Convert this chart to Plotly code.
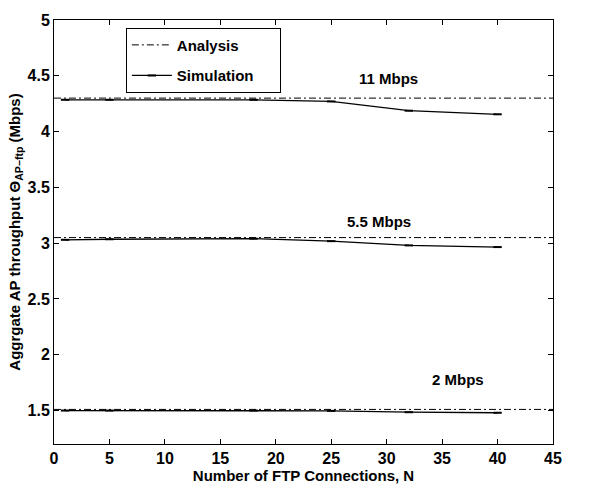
import plotly.graph_objects as go

# Data
n_conn = [1, 5, 18, 25, 32, 40]
sim_11 = [4.285, 4.285, 4.285, 4.27, 4.187, 4.155]
sim_55 = [3.03, 3.035, 3.04, 3.018, 2.98, 2.965]
sim_2 = [1.50, 1.50, 1.50, 1.497, 1.485, 1.48]
analysis_x = [0, 45]
ana_11 = 4.30
ana_55 = 3.05
ana_2 = 1.51
rate_labels = ["11 Mbps", "5.5 Mbps", "2 Mbps"]
label_x = [30.2, 29.3, 36.4]
label_y = [4.48, 3.19, 1.78]
x_ticks = [0, 5, 10, 15, 20, 25, 30, 35, 40, 45]
y_ticks = [1.5, 2, 2.5, 3, 3.5, 4, 4.5, 5]
y_tick_text = ["1.5", "2", "2.5", "3", "3.5", "4", "4.5", "5"]

FONT = "Liberation Sans, Arial, Helvetica, sans-serif"
DASHDOT = "7px,3px,2px,3px"
BOLD = dict(family=FONT, color="black", weight=700)

fig = go.Figure()

for i, a in enumerate([ana_11, ana_55, ana_2]):
    fig.add_trace(go.Scatter(
        x=analysis_x, y=[a, a], mode="lines",
        name="<b>Analysis</b>",
        line=dict(color="black", width=1, dash=DASHDOT),
        legendgroup="ana", showlegend=(i == 0)))

for i, s in enumerate([sim_11, sim_55, sim_2]):
    fig.add_trace(go.Scatter(
        x=n_conn, y=s, mode="lines+markers",
        name="<b>Simulation</b>\u00a0\u00a0\u00a0\u00a0\u00a0",
        line=dict(color="black", width=1.3),
        marker=dict(symbol="line-ew", size=6, line=dict(width=2, color="black")),
        legendgroup="sim", showlegend=(i == 0)))

for t, x, y in zip(rate_labels, label_x, label_y):
    fig.add_annotation(x=x, y=y, text="<b>" + t + "</b>", showarrow=False,
                       font=dict(size=15, **BOLD))

fig.update_layout(
    width=616, height=491,
    margin=dict(l=54, r=63, t=18, b=39),
    paper_bgcolor="white", plot_bgcolor="white",
    font=dict(size=14, **BOLD),
    legend=dict(x=0.144, y=0.982, xanchor="left", yanchor="top",
                bgcolor="white", bordercolor="black", borderwidth=1,
                font=dict(size=15, **BOLD),
                tracegroupgap=8, itemwidth=40),
    xaxis=dict(range=[0, 45], tickmode="array", tickvals=x_ticks,
               ticktext=["<b>%d</b>" % v for v in x_ticks],
               tickfont=dict(size=16, **BOLD),
               showline=True, linecolor="black", linewidth=1, mirror="ticks",
               ticks="inside", ticklen=5, tickcolor="black", showgrid=False,
               zeroline=False,
               title=dict(text="<b>Number of FTP Connections, N</b>", standoff=1,
                          font=dict(size=15, **BOLD))),
    yaxis=dict(range=[1.2, 5], tickmode="array",
               tickvals=y_ticks,
               ticktext=["<b>" + t + "</b>" for t in y_tick_text],
               tickfont=dict(size=16, **BOLD),
               showline=True, linecolor="black", linewidth=1, mirror="ticks",
               ticks="inside", ticklen=5, tickcolor="black", showgrid=False,
               zeroline=False,
               title=dict(text="<b>Aggrgate AP throughput \u0398<sub>AP\u2212ftp</sub> (Mbps)</b>",
                          standoff=3, font=dict(size=15, **BOLD))),
)

fig.write_html("out.html")
